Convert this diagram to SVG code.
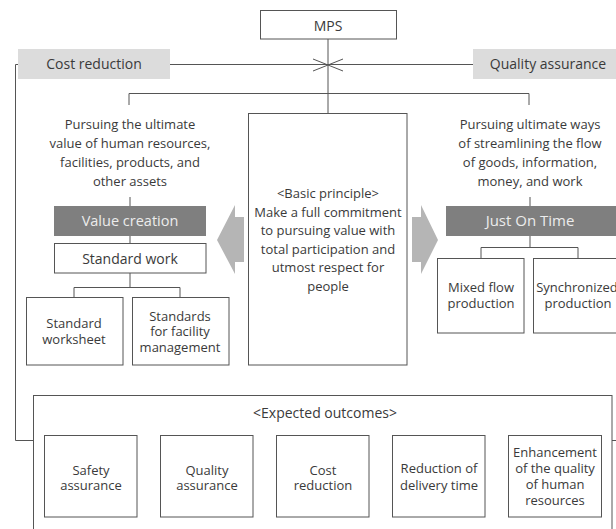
<svg xmlns="http://www.w3.org/2000/svg" width="616" height="529" viewBox="0 0 616 529">
<style>
text{font-family:"Open Sans","Noto Sans",sans-serif;font-size:13px;fill:#3a3a3a;text-anchor:middle}
.big{font-size:14px}
.box{fill:#fff;stroke:#555;stroke-width:1}
.lbl{fill:#dcdcdc}
.dark{fill:#7f7f7f}
.wt{fill:#ececec;font-size:14.5px}
.ln{stroke:#555;stroke-width:1;fill:none}
.arrow{fill:#b5b5b5}
</style>
<rect width="616" height="529" fill="#fff"/>
<g id="connectors">
<path class="ln" d="M328 39V113"/>
<path class="ln" d="M170 64.5H473"/>
<path class="ln" d="M313 59L343 71M313 71L343 59"/>
<path class="ln" d="M129 105V93.5H529V105"/>
<path class="ln" d="M18 64.5H15.5V440.5H33"/>
<path class="ln" d="M612 440.5H616"/>
<path class="ln" d="M130 197V206M130 236V243M130 273V287.5"/>
<path class="ln" d="M74 297V287.5H180V297"/>
<path class="ln" d="M530 197V206M530 236V247.5"/>
<path class="ln" d="M481 258V247.5H578V258"/>
</g>
<g id="mps"><rect class="box" x="260.5" y="10.5" width="136" height="28.5"/><text class="big" x="328" y="30.5">MPS</text></g>
<g id="cost-reduction"><rect class="lbl" x="18" y="49" width="152" height="30"/><text class="big" x="94" y="69">Cost reduction</text></g>
<g id="quality-assurance"><rect class="lbl" x="473" y="49" width="150" height="30"/><text class="big" x="548" y="69">Quality assurance</text></g>
<g id="left-text"><text x="130" y="129">Pursuing the ultimate</text><text x="130" y="148">value of human resources,</text><text x="130" y="167">facilities, products, and</text><text x="130" y="186">other assets</text></g>
<g id="right-text"><text x="530" y="129">Pursuing ultimate ways</text><text x="530" y="148">of streamlining the flow</text><text x="530" y="167">of goods, information,</text><text x="530" y="186">money, and work</text></g>
<g id="basic-principle"><rect class="box" x="248.5" y="113.5" width="158.5" height="251.5"/>
<text x="328" y="198">&lt;Basic principle&gt;</text><text x="328" y="216.5">Make a full commitment</text><text x="328" y="235">to pursuing value with</text><text x="328" y="253.5">total participation and</text><text x="328" y="272">utmost respect for</text><text x="328" y="290.5">people</text></g>
<g id="arrow-left"><path class="arrow" d="M217 240L235 205V217H244V262H235V274Z"/></g>
<g id="arrow-right"><path class="arrow" d="M438 240L421 205V217H412V262H421V274Z"/></g>
<g id="value-creation"><rect class="dark" x="54" y="206" width="152" height="30"/><text class="wt" x="130" y="226">Value creation</text></g>
<g id="standard-work"><rect class="box" x="54.5" y="243.5" width="151.5" height="29.5"/><text class="big" x="130" y="263.5">Standard work</text></g>
<g id="standard-worksheet"><rect class="box" x="26.5" y="297.5" width="96.5" height="67.5"/><text x="74" y="327.5">Standard</text><text x="74" y="343.5">worksheet</text></g>
<g id="standards-facility"><rect class="box" x="132.5" y="297.5" width="96.5" height="67.5"/><text x="180" y="320.5">Standards</text><text x="180" y="336">for facility</text><text x="180" y="351.5">management</text></g>
<g id="just-on-time"><rect class="dark" x="446" y="206" width="175" height="30"/><text class="wt" x="530" y="226" style="font-size:15px">Just On Time</text></g>
<g id="mixed-flow"><rect class="box" x="437.5" y="258.5" width="86.5" height="74.5"/><text x="481" y="291.5">Mixed flow</text><text x="481" y="307.5">production</text></g>
<g id="synchronized"><rect class="box" x="533.5" y="258.5" width="90" height="74.5"/><text x="577" y="291.5">Synchronized</text><text x="578" y="307.5">production</text></g>
<g id="expected-outcomes"><rect class="box" x="33.5" y="395.5" width="578.5" height="145"/><text x="325" y="418" style="font-size:14px">&lt;Expected outcomes&gt;</text></g>
<g id="safety"><rect class="box" x="44.5" y="435.5" width="92.5" height="81.5"/><text x="91" y="474.5">Safety</text><text x="91" y="489.5">assurance</text></g>
<g id="quality"><rect class="box" x="160.5" y="435.5" width="92.5" height="81.5"/><text x="207" y="474.5">Quality</text><text x="207" y="489.5">assurance</text></g>
<g id="cost"><rect class="box" x="276.5" y="435.5" width="92.5" height="81.5"/><text x="323" y="474.5">Cost</text><text x="323" y="489.5">reduction</text></g>
<g id="delivery"><rect class="box" x="392.5" y="435.5" width="92.5" height="81.5"/><text x="439" y="473">Reduction of</text><text x="439" y="489.5">delivery time</text></g>
<g id="human"><rect class="box" x="508.5" y="435.5" width="93" height="81.5"/><text x="555" y="457">Enhancement</text><text x="555" y="473">of the quality</text><text x="555" y="489">of human</text><text x="555" y="504.5">resources</text></g>
</svg>
